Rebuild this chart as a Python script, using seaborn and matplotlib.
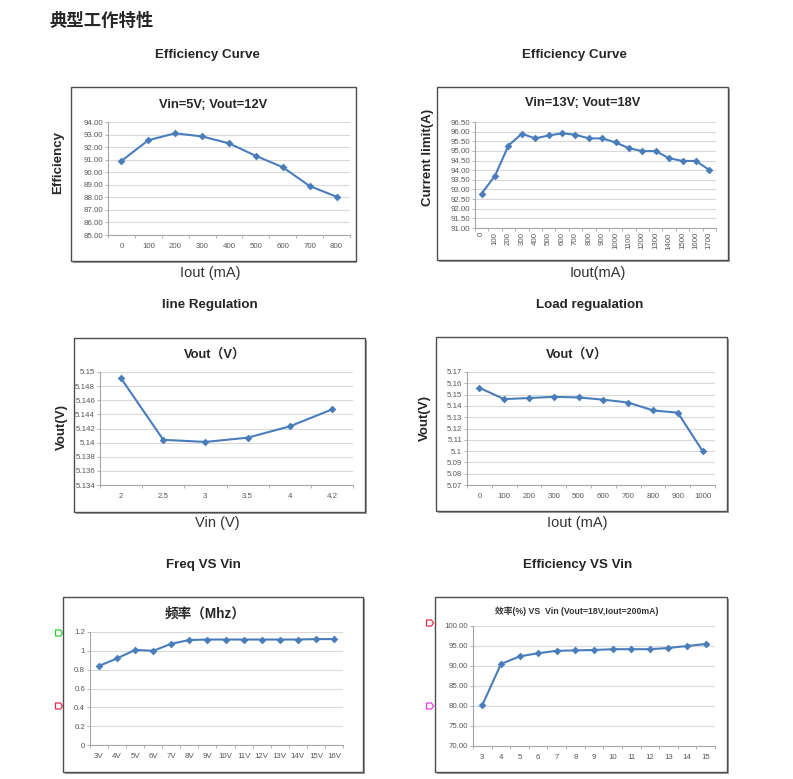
import matplotlib
matplotlib.use('Agg')
import matplotlib.pyplot as plt
from matplotlib.patches import Rectangle, Polygon
import seaborn as sns

# ---- data ----
eff5_x = ['0', '100', '200', '300', '400', '500', '600', '700', '800']
eff5_y = [90.9, 92.55, 93.1, 92.85, 92.3, 91.3, 90.4, 88.9, 88.05]

eff13_x = [str(v) for v in range(0, 1800, 100)]
eff13_y = [92.79, 93.72, 95.28, 95.89, 95.65, 95.80, 95.91, 95.84, 95.65,
           95.65, 95.44, 95.14, 94.99, 94.99, 94.62, 94.48, 94.48, 94.01]

line_x = ['2', '2.5', '3', '3.5', '4', '4.2']
line_y = [5.1491, 5.1404, 5.1401, 5.1407, 5.1423, 5.1447]

load_x = ['0', '100', '200', '300', '500', '600', '700', '800', '900', '1000']
load_y = [5.156, 5.146, 5.147, 5.148, 5.1475, 5.1455, 5.143, 5.136, 5.134, 5.100]

freq_x = ['3V', '4V', '5V', '6V', '7V', '8V', '9V', '10V', '11V', '12V',
          '13V', '14V', '15V', '16V']
freq_y = [0.84, 0.92, 1.01, 1.00, 1.075, 1.115, 1.12, 1.12, 1.12, 1.12,
          1.12, 1.12, 1.125, 1.125]

effv_x = [str(v) for v in range(3, 16)]
effv_y = [80.2, 90.5, 92.4, 93.2, 93.8, 93.9, 94.0, 94.2, 94.2, 94.2,
          94.5, 95.0, 95.5]

W, H = 793, 779
BLUE = '#4a7ebb'

sns.set_style('white')
plt.rcParams['font.family'] = ['Liberation Sans', 'Noto Sans CJK SC', 'DejaVu Sans']

fig = plt.figure(figsize=(W / 100, H / 100), dpi=100)


def fx(x):
    return x / W


def fy(y):
    return 1 - y / H


def box(l, t, r, b):
    shadow = Rectangle((fx(l + 1.5), fy(b + 1.5)), (r - l) / W, (b - t) / H,
                       transform=fig.transFigure, facecolor='#a0a0a0',
                       edgecolor='none', zorder=-2)
    rect = Rectangle((fx(l), fy(b)), (r - l) / W, (b - t) / H,
                     transform=fig.transFigure, facecolor='white',
                     edgecolor='#4d4d4d', lw=1.0, zorder=-1)
    fig.add_artist(shadow)
    fig.add_artist(rect)


def flag(x, y, color):
    pts = [(x - 3.5, y - 3), (x + 1.5, y - 3), (x + 3.5, y), (x + 1.5, y + 3), (x - 3.5, y + 3)]
    fig.add_artist(Polygon([(fx(a), fy(b)) for a, b in pts], closed=True,
                           transform=fig.transFigure, facecolor='white',
                           edgecolor=color, lw=0.9, zorder=3))


def fmt_g(v):
    return ('%.4f' % v).rstrip('0').rstrip('.')


def chart(pos, xs, ys, yticks, fmt, rot=0):
    l, t, r, b = pos
    ax = fig.add_axes([fx(l), fy(b), (r - l) / W, (b - t) / H])
    ax.patch.set_alpha(0)
    sns.pointplot(x=xs, y=ys, color=BLUE, markers='D', markersize=2.8,
                  linewidth=1.5, errorbar=None, ax=ax)
    ax.set_ylim(yticks[0], yticks[-1])
    ax.set_yticks(yticks)
    ax.set_yticklabels([fmt(v) for v in yticks])
    ax.yaxis.grid(True, color='#d9d9d9', lw=0.8)
    ax.xaxis.grid(False)
    ax.set_axisbelow(True)
    for s in ['top', 'right']:
        ax.spines[s].set_visible(False)
    for s in ['left', 'bottom']:
        ax.spines[s].set_color('#a6a6a6')
        ax.spines[s].set_linewidth(0.8)
    ax.tick_params(axis='y', labelsize=5.7, colors='#a6a6a6', labelcolor='#595959',
                   length=2, width=0.6, pad=1.5, left=True)
    ax.tick_params(axis='x', labelsize=5.7, labelcolor='#595959', length=0,
                   pad=6 if rot == 0 else 3, labelrotation=rot)
    ax.set_xticks([i - 0.5 for i in range(len(xs) + 1)], minor=True)
    ax.tick_params(axis='x', which='minor', length=2, width=0.6, color='#a6a6a6', bottom=True)
    ax.set_xlabel('')
    ax.set_ylabel('')
    return ax


# heading
fig.text(fx(50), fy(21), '典型工作特性', family=['Noto Sans CJK SC'], weight='bold',
         fontsize=12.5, ha='left', va='center')

# outer titles
outer = [('Efficiency Curve', 207, 55), ('Efficiency Curve', 574, 55),
         ('line Regulation', 210, 305), ('Load regualation', 590, 305),
         ('Freq VS Vin', 203, 565), ('Efficiency VS Vin', 578, 565)]
for s, x, y in outer:
    fig.text(fx(x), fy(y), s, weight='bold', fontsize=9.6, ha='center', va='center')

# boxes
box(71, 87, 356, 261)
box(437, 87, 728, 260)
box(74, 338, 365, 512)
box(436, 337, 727, 511)
box(63, 597, 363, 772)
box(435, 597, 727, 772)

chart((108, 122, 350, 235), eff5_x, eff5_y, [85 + i for i in range(10)], lambda v: '%.2f' % v)
chart((475, 122, 716, 228), eff13_x, eff13_y, [91 + 0.5 * i for i in range(12)],
      lambda v: '%.2f' % v, rot=90)
chart((100, 372, 353, 485), line_x, line_y, [5.134 + 0.002 * i for i in range(9)], fmt_g)
chart((467, 372, 715, 485), load_x, load_y, [5.07 + 0.01 * i for i in range(11)], fmt_g)
chart((90, 632, 343, 745), freq_x, freq_y, [0.2 * i for i in range(7)], fmt_g)
chart((473, 626, 715, 746), effv_x, effv_y, [70 + 5 * i for i in range(7)], lambda v: '%.2f' % v)

# inner titles
inner = [('Vin=5V; Vout=12V', 213, 105, 9.3), ('Vin=13V; Vout=18V', 583, 103, 9.3),
         ('Vout（V）', 215, 355, 9.3), ('Vout（V）', 577, 355, 9.3),
         ('频率（Mhz）', 205, 614, 9.8)]
for s, x, y, size in inner:
    fig.text(fx(x), fy(y), s, weight='bold', fontsize=size, ha='center', va='center')
fig.text(fx(577), fy(611), '效率(%) VS  Vin (Vout=18V,Iout=200mA)', weight='bold',
         fontsize=6.3, ha='center', va='center', color='#333333')

# axis labels
ylabels = [('Efficiency', 58, 162), ('Current limit(A)', 428, 157),
           ('Vout(V)', 62, 427), ('Vout(V)', 425, 418)]
for s, x, y in ylabels:
    fig.text(fx(x), fy(y), s, weight='bold', fontsize=9.5, rotation=90,
             ha='center', va='center')
xlabels = [('Iout (mA)', 210, 273), ('Iout(mA)', 598, 273),
           ('Vin (V)', 217, 523), ('Iout (mA)', 577, 523)]
for s, x, y in xlabels:
    fig.text(fx(x), fy(y), s, fontsize=10.5, ha='center', va='center', color='#333333')

# small markers left of the bottom charts
flag(59, 633, '#33cc33')
flag(59, 706, '#e0304a')
flag(430, 623, '#e0304a')
flag(430, 706, '#e040e0')

fig.savefig('out.png', dpi=100)
